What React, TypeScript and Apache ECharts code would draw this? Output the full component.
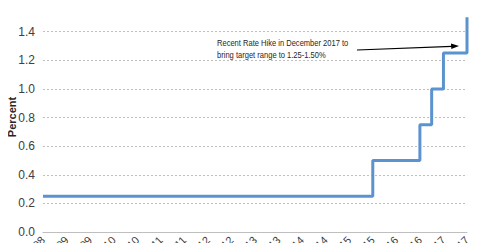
import React, { useEffect, useRef } from "react";
import * as echarts from "echarts";

// months since Dec 2008
const changeMonths = [0, 84, 96, 99, 102, 108];
const rateValues = [0.25, 0.5, 0.75, 1.0, 1.25, 1.5];
const xTickLabels = [
  "Dec-08", "Jun-09", "Dec-09", "Jun-10", "Dec-10", "Jun-11", "Dec-11",
  "Jun-12", "Dec-12", "Jun-13", "Dec-13", "Jun-14", "Dec-14", "Jun-15",
  "Dec-15", "Jun-16", "Dec-16", "Jun-17", "Dec-17",
];
const yAxisTitle = "Percent";
const annotationLines = [
  "Recent Rate Hike in December 2017 to",
  "bring target range to 1.25-1.50%",
];

export default function App() {
  const ref = useRef<HTMLDivElement>(null);
  useEffect(() => {
    if (!ref.current) return;
    const chart = echarts.init(ref.current, undefined, { renderer: "svg" });
    chart.setOption({
      animation: false,
      grid: { left: 43, right: 13, top: 3, bottom: 19, containLabel: false, outerBoundsMode: "none" },
      xAxis: {
        type: "value",
        min: 0,
        max: 108,
        interval: 6,
        axisLine: { show: true, lineStyle: { color: "#bfbfbf", width: 1 } },
        axisTick: { show: false },
        splitLine: { show: false },
        axisLabel: {
          rotate: 45,
          fontSize: 11,
          color: "#404040",
          fontFamily: "Liberation Sans, Arial, sans-serif",
          margin: 6,
          showMinLabel: true,
          showMaxLabel: true,
          hideOverlap: false,
          formatter: (v: number) => xTickLabels[Math.round(v / 6)] ?? "",
        },
      },
      yAxis: {
        type: "value",
        min: 0,
        max: 1.6,
        interval: 0.2,
        axisLine: { show: false },
        axisTick: { show: false },
        splitLine: {
          show: true,
          lineStyle: { color: "#bfbfbf", width: 1, type: [2, 2] },
        },
        axisLabel: {
          fontSize: 12,
          color: "#404040",
          fontFamily: "Liberation Sans, Arial, sans-serif",
          margin: 8,
          formatter: (v: number) => v.toFixed(1),
        },
      },
      series: [
        {
          type: "line",
          step: "end",
          showSymbol: false,
          symbol: "none",
          lineStyle: { color: "#5b93cf", width: 3 },
          data: changeMonths.map((m, i) => [m, rateValues[i]]),
        },
      ],
      graphic: [
        {
          type: "text",
          x: 12,
          y: 117,
          rotation: Math.PI / 2,
          style: {
            text: yAxisTitle,
            fontSize: 11,
            fontWeight: "bold",
            fill: "#262626",
            align: "center",
            verticalAlign: "middle",
            fontFamily: "Liberation Sans, Arial, sans-serif",
          },
        },
        {
          type: "text",
          x: 217,
          y: 37,
          scaleX: 0.84,
          style: {
            text: annotationLines.join("\n"),
            fontSize: 9,
            lineHeight: 12,
            fill: "#262626",
            fontFamily: "Liberation Sans, Arial, sans-serif",
          },
        },
        {
          type: "line",
          shape: { x1: 357, y1: 50, x2: 452, y2: 46.3 },
          style: { stroke: "#000", lineWidth: 1.2 },
        },
        {
          type: "polygon",
          shape: { points: [[459, 46], [451, 43.4], [451.3, 49]] },
          style: { fill: "#000" },
        },
      ],
    });
    return () => chart.dispose();
  }, []);
  return <div ref={ref} style={{ width: 480, height: 251, margin: -8 }} />;
}
